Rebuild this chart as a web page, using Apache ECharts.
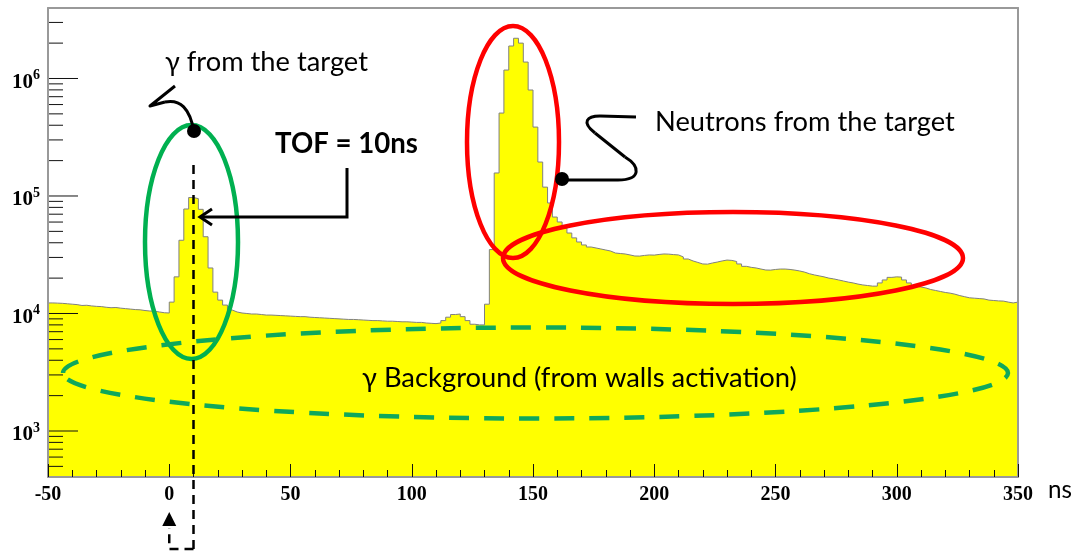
<!DOCTYPE html>
<html><head><meta charset="utf-8">
<script src="https://cdn.jsdelivr.net/npm/echarts@6/dist/echarts.min.js"></script>
<style>html,body{margin:0;padding:0;background:#fff}#c{width:1076px;height:551px}</style>
</head><body><div id="c"></div>
<script>
// ---- data ----
const binStart = -50;      // ns, left edge of first bin
const binWidth = 2;        // ns
const counts = [
  // -50 .. 0
  12300, 12250, 12200, 12100, 12000, 11900, 11700, 11750, 11600, 11500,
  11450, 11300, 11200, 11250, 11100, 11000, 10900, 10800, 10750, 10600,
  10500, 10450, 10300, 10150, 10100,
  // 0 .. 50
  12500, 20500, 42000, 77500, 97000, 95000, 77000, 45000, 24400, 15200,
  13000, 11800, 10700, 10300, 10100, 10000, 9900, 9900, 9800, 9700,
  9700, 9650, 9600, 9550, 9500,
  // 50 .. 100
  9450, 9400, 9400, 9300, 9250, 9200, 9150, 9100, 9050, 9000,
  8950, 8900, 8900, 8850, 8800, 8750, 8700, 8700, 8650, 8600,
  8600, 8550, 8500, 8500, 8450,
  // 100 .. 150
  8400, 8400, 8300, 8250, 8200, 8300, 8700, 9300, 9800, 9900,
  9400, 8700, 8100, 8000, 8000, 12000, 35000, 157000, 508000, 1180000,
  1890000, 2200000, 2000000, 1380000, 798000,
  // 150 .. 200
  386000, 194500, 119000, 87200, 66200, 60100, 53400, 48400, 44000, 40600,
  38300, 36800, 36100, 35400, 34700, 34000, 32700, 32400, 32100, 31500,
  30850, 30800, 31200, 31500, 31400,
  // 200 .. 250
  31800, 32100, 32000, 31700, 31500, 30300, 29100, 28000, 27200, 26400,
  26300, 26900, 27400, 28000, 28500, 28300, 27700, 26400, 25200, 24700,
  24400, 23900, 23450, 23400, 23700,
  // 250 .. 300
  23900, 23900, 23700, 23400, 23000, 22500, 21800, 21300, 20900, 20500,
  20000, 19700, 19300, 18900, 18500, 18200, 17800, 17500, 17300, 17100,
  17100, 18200, 19300, 20300, 20500,
  // 300 .. 350
  20400, 19300, 18200, 17100, 16800, 16500, 16000, 15700, 15400, 15100,
  14900, 14600, 14200, 13900, 13600, 13500, 13400, 13300, 13000, 12900,
  12800, 12750, 12500, 12300, 12500
];
const xMin = -50, xMax = 350, xInterval = 50;
const yMin = 406, yMax = 3.98e6;
const xUnit = 'ns';

// ---- build ----
const histData = counts.map((c, i) => [binStart + i * binWidth, c]);
histData.push([binStart + counts.length * binWidth, counts[counts.length - 1]]);

const yTickData = [];
for (let e = 2; e <= 6; e++) {
  for (let m = 1; m <= 9; m++) {
    const v = m * Math.pow(10, e);
    if (v >= yMin && v <= yMax) yTickData.push([xMin, v, m === 1 ? 1 : 0, e]);
  }
}

const serif = '"Liberation Serif", "Times New Roman", serif';
const sans = 'Lato, "Liberation Sans", sans-serif';

const chart = echarts.init(document.getElementById('c'), null, {renderer: 'canvas'});
chart.setOption({
  animation: false,
  backgroundColor: '#fff',
  grid: {left: 48, right: 58, top: 8, bottom: 74, containLabel: false},
  xAxis: [{
    type: 'value', min: xMin, max: xMax, interval: xInterval, z: 10,
    axisLine: {show: true, onZero: false, lineStyle: {color: '#999', width: 2}},
    axisTick: {show: true, inside: true, length: 13, lineStyle: {color: '#111', width: 1}},
    minorTick: {show: true, splitNumber: 5, length: 7, lineStyle: {color: '#111', width: 1}},
    splitLine: {show: false},
    axisLabel: {margin: 8, color: '#000', fontFamily: serif, fontWeight: 'bold', fontSize: 20}
  }, {
    type: 'value', position: 'top', min: xMin, max: xMax, z: 10,
    axisLine: {show: true, onZero: false, lineStyle: {color: '#999', width: 2}},
    axisTick: {show: false}, axisLabel: {show: false}, splitLine: {show: false}
  }],
  yAxis: [{
    type: 'log', logBase: 10, min: yMin, max: yMax, z: 10,
    axisLine: {show: true, onZero: false, lineStyle: {color: '#999', width: 2}},
    axisTick: {show: false}, splitLine: {show: false}, minorTick: {show: false},
    axisLabel: {show: false}
  }, {
    type: 'value', position: 'right', min: 0, max: 1, z: 10,
    axisLine: {show: true, onZero: false, lineStyle: {color: '#999', width: 2}},
    axisTick: {show: false}, axisLabel: {show: false}, splitLine: {show: false}
  }],
  series: [{
    type: 'line', xAxisIndex: 0, yAxisIndex: 0, step: 'end', data: histData,
    symbol: 'none', z: 2,
    lineStyle: {color: '#808080', width: 1},
    areaStyle: {color: '#FFFF00', opacity: 1, origin: 'start'}
  }, {
    // log-axis ticks (decades + 2..9 sub-ticks) and 10^n labels
    type: 'custom', xAxisIndex: 0, yAxisIndex: 0, data: yTickData, z: 5, silent: true, clip: false,
    encode: {x: 0, y: 1},
    renderItem: function (params, api) {
      const p = api.coord([api.value(0), api.value(1)]);
      const major = api.value(2) === 1;
      const children = [{type: 'line', shape: {x1: p[0], y1: p[1], x2: p[0] + (major ? 30 : 15), y2: p[1]},
        style: {stroke: '#111', lineWidth: 1}}];
      if (major) {
        children.push({type: 'text', x: p[0] - 15, y: p[1] + 4,
          style: {text: '10', fill: '#000', fontFamily: serif, fontWeight: 'bold', fontSize: 21,
            align: 'right', verticalAlign: 'middle'}});
        children.push({type: 'text', x: p[0] - 15, y: p[1] - 3,
          style: {text: String(api.value(3)), fill: '#000', fontFamily: serif, fontWeight: 'bold', fontSize: 14,
            align: 'left', verticalAlign: 'middle'}});
      }
      return {type: 'group', children: children};
    }
  }]
});

// ---- annotations ----
const mctx = document.createElement('canvas').getContext('2d');
function fit(text, weight, target) {
  mctx.font = weight + ' 40px ' + sans;
  return 40 * target / mctx.measureText(text).width;
}
function txt(text, left, baseline, target, weight) {
  const fs = fit(text, weight || 'normal', target);
  return {type: 'text', x: left, y: baseline - 0.3 * fs, z: 100, silent: true,
    style: {text: text, fill: '#000', fontFamily: sans, fontWeight: weight || 'normal', fontSize: fs,
      align: 'left', verticalAlign: 'middle'}};
}
const green = '#00B050', red = '#FF0000';
const tofX = chart.convertToPixel({xAxisIndex: 0}, 10);
const zeroX = chart.convertToPixel({xAxisIndex: 0}, 0);
const dash = [9, 6];
const g = [
  {type: 'ellipse', z: 100, silent: true, shape: {cx: 191.5, cy: 242, rx: 46.5, ry: 117},
    style: {fill: 'none', stroke: green, lineWidth: 4.5}},
  {type: 'ellipse', z: 100, silent: true, shape: {cx: 513, cy: 142, rx: 46, ry: 116},
    style: {fill: 'none', stroke: red, lineWidth: 4.5}},
  {type: 'ellipse', z: 100, silent: true, shape: {cx: 733, cy: 258, rx: 230, ry: 46},
    style: {fill: 'none', stroke: red, lineWidth: 4.5}},
  {type: 'ellipse', z: 100, silent: true, shape: {cx: 535.5, cy: 373, rx: 472.5, ry: 45.5},
    style: {fill: 'none', stroke: '#0FA85C', lineWidth: 4.5, lineDash: [20, 15]}},
  {type: 'line', z: 101, silent: true, shape: {x1: tofX, y1: 165, x2: tofX, y2: 549},
    style: {stroke: '#000', lineWidth: 2.5, lineDash: dash}},
  {type: 'polyline', z: 101, silent: true, shape: {points: [[tofX, 549], [zeroX, 549], [zeroX, 528]]},
    style: {stroke: '#000', lineWidth: 2.5, lineDash: dash, fill: 'none'}},
  {type: 'polygon', z: 101, silent: true, shape: {points: [[zeroX, 512], [zeroX - 7, 526], [zeroX + 7, 526]]},
    style: {fill: '#000'}},
  {type: 'bezierCurve', z: 101, silent: true,
    shape: {x1: 194, y1: 132, cpx1: 190, cpy1: 108, cpx2: 180, cpy2: 99, x2: 165, y2: 102},
    style: {stroke: '#000', lineWidth: 3, fill: 'none'}},
  {type: 'polyline', z: 101, silent: true, shape: {points: [[165, 102], [150, 106], [175, 86]]},
    style: {stroke: '#000', lineWidth: 3, fill: 'none', lineJoin: 'round'}},
  {type: 'circle', z: 102, silent: true, shape: {cx: 194, cy: 131, r: 7}, style: {fill: '#000'}},
  {type: 'polyline', z: 101, silent: true, shape: {points: [[562, 180], [618, 180]]},
    style: {stroke: '#000', lineWidth: 3, fill: 'none'}},
  {type: 'bezierCurve', z: 101, silent: true,
    shape: {x1: 618, y1: 180, cpx1: 642, cpy1: 180, cpx2: 640, cpy2: 166, x2: 625, y2: 157},
    style: {stroke: '#000', lineWidth: 3, fill: 'none'}},
  {type: 'polyline', z: 101, silent: true, shape: {points: [[625, 157], [595, 133]]},
    style: {stroke: '#000', lineWidth: 3, fill: 'none'}},
  {type: 'bezierCurve', z: 101, silent: true,
    shape: {x1: 595, y1: 133, cpx1: 581, cpy1: 122, cpx2: 587, cpy2: 116, x2: 600, y2: 116},
    style: {stroke: '#000', lineWidth: 3, fill: 'none'}},
  {type: 'polyline', z: 101, silent: true, shape: {points: [[600, 116], [636, 117]]},
    style: {stroke: '#000', lineWidth: 3, fill: 'none'}},
  {type: 'circle', z: 102, silent: true, shape: {cx: 562, cy: 179, r: 7}, style: {fill: '#000'}},
  {type: 'polyline', z: 101, silent: true, shape: {points: [[347, 168], [347, 217], [201, 217]]},
    style: {stroke: '#000', lineWidth: 3, fill: 'none'}},
  {type: 'polyline', z: 101, silent: true, shape: {points: [[212, 209], [200, 217], [212, 225]]},
    style: {stroke: '#000', lineWidth: 3, fill: 'none'}},
  txt('\u03B3 from the target', 165, 70, 203),
  txt('TOF = 10ns', 275, 152, 143, 'bold'),
  txt('Neutrons from the target', 655, 130, 300),
  txt('\u03B3 Background (from walls activation)', 362, 386, 435),
  txt(xUnit, 1048, 497, 24)
];
chart.setOption({graphic: g});
</script>
</body></html>
